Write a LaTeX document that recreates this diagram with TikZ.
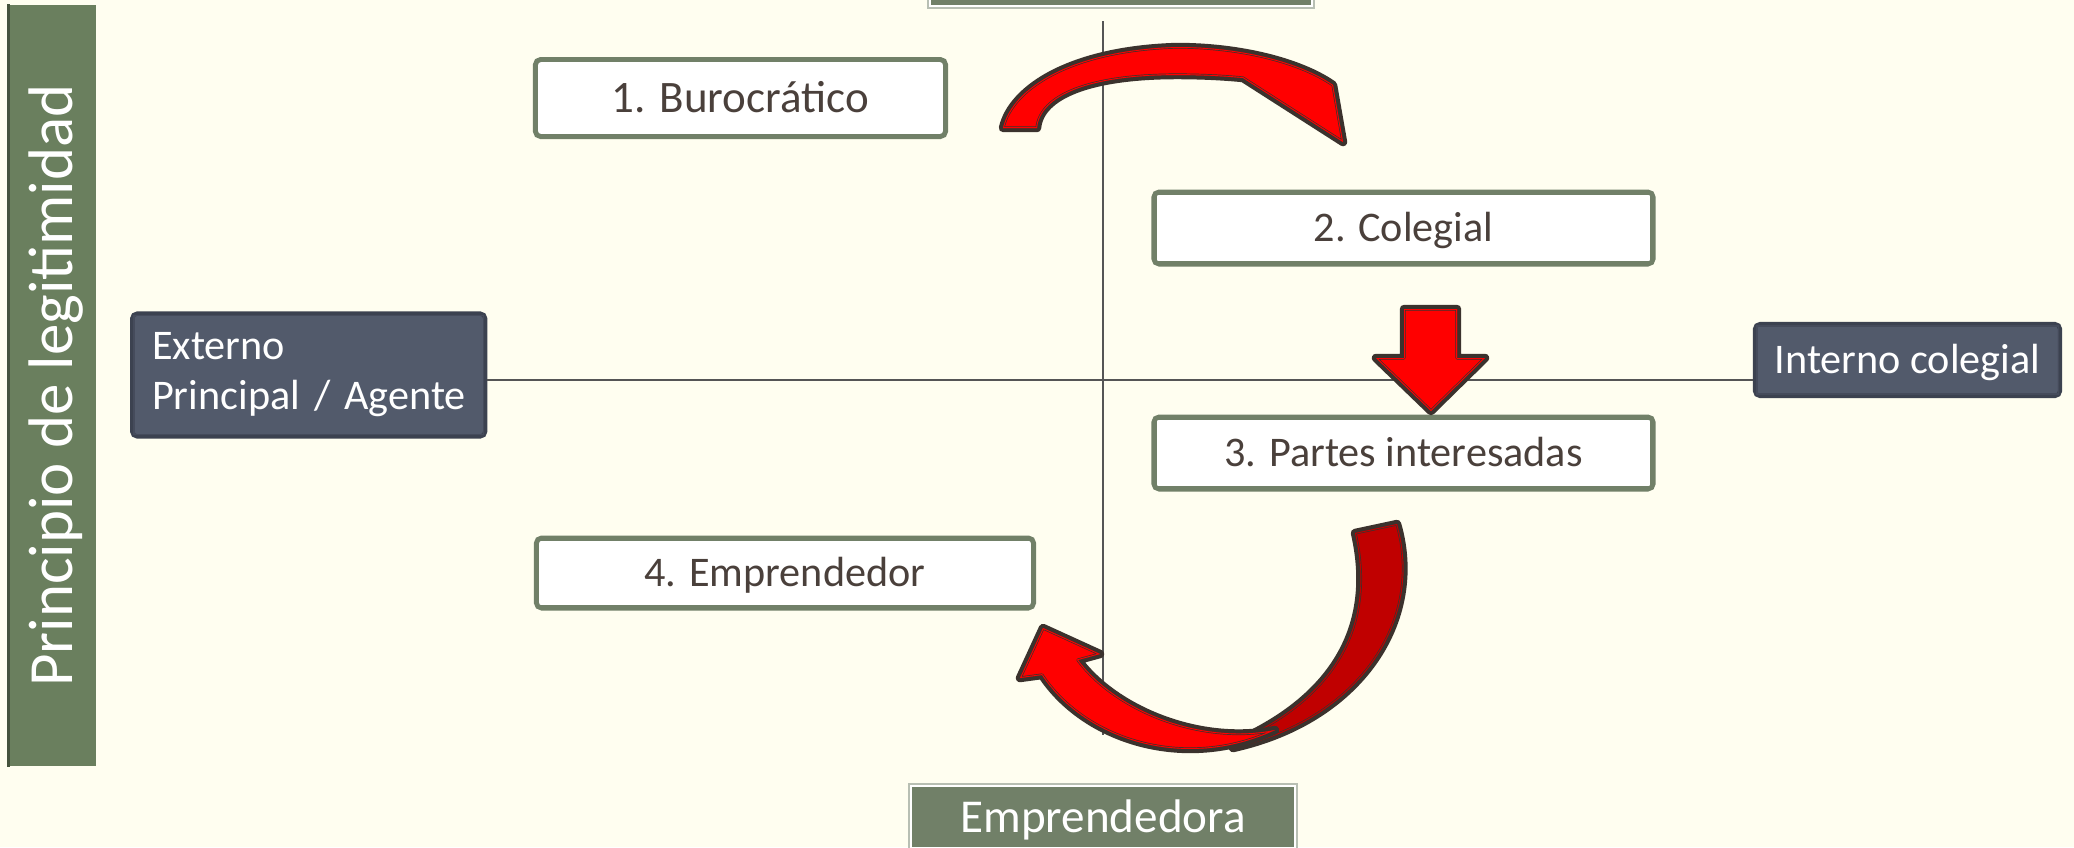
\documentclass[tikz,border=0pt]{standalone}
\usepackage{fontspec}
\setmainfont{Carlito}

\definecolor{bgcream}{HTML}{FFFEF0}
\definecolor{boxgreen}{HTML}{718068}
\definecolor{bargreen}{HTML}{6A7F5E}
\definecolor{slate}{HTML}{525A6B}
\definecolor{slateedge}{HTML}{3C4250}
\definecolor{inkgray}{HTML}{4A403B}
\definecolor{arrowdark}{HTML}{3B322D}
\definecolor{axisgray}{HTML}{555555}
\definecolor{darkred}{HTML}{C00000}

% block arrow: thick dark rim, thin inner rim
\newcommand{\blockarrow}[2]{%
  \draw[arrowdark, line width=2.4pt, line join=round] #2;
  \fill[#1] #2;
  \begin{scope}
    \clip #2;
    \draw[arrowdark, line width=0.9pt, line join=round] #2;
    \draw[#1, line width=0.5pt, line join=round] #2;
  \end{scope}}

\begin{document}
\begin{tikzpicture}[x=0.01cm, y=-0.01cm,
    stagebox/.style={draw=boxgreen, line width=1.4pt, fill=white, rounded corners=1.5pt,
      inner sep=0pt, text=inkgray, font=\fontsize{12}{14.4}\selectfont,
      text height=7.7pt, text depth=0pt},
    darkbox/.style={draw=slateedge, line width=1.2pt, fill=slate, rounded corners=1.5pt,
      inner sep=0pt, text=white, font=\fontsize{12}{14.2}\selectfont},
    axisbox/.style={fill=boxgreen, draw=boxgreen!50!white, line width=0.6pt,
      inner sep=0pt, text=white},
    axis/.style={axisgray, line width=0.4pt}]
	\useasboundingbox (0,0) rectangle (2074,847);
	\clip (0,0) rectangle (2074,847);
	\fill[bgcream] (0,0) rectangle (2074,847);

	% side bar
	\node[rotate=90, fill=bargreen, minimum width=7.61cm, minimum height=0.87cm, inner sep=0pt,
	      text=white, font=\fontsize{17.9}{21}\selectfont, text height=11.5pt, text depth=0pt]
	      (legit) at (52.5,385.5) {Principio de legitimidad};
	\draw[bargreen!65!black, line width=1pt] (legit.north west) -- (legit.north east);

	% axes
	\coordinate (o) at (1103,380);
	\coordinate (vtop) at (1103,21);
	\coordinate (vbot) at (1103,735);

	\node[axisbox, minimum width=3.86cm, minimum height=0.8cm] (top) at (1121,-32) {};
	\node[axisbox, minimum width=3.88cm, minimum height=0.66cm, font=\fontsize{13.4}{16}\selectfont,
	      text height=8.6pt, text depth=0pt] (bottom) at (1103,817) {Emprendedora};

	\node[darkbox, align=left, text width=3.13cm, inner xsep=0.2cm, minimum height=1.23cm, anchor=west]
	      (ext) at (130,375) {Externo\\\mbox{Principal / Agente}};
	\node[darkbox, minimum width=3.05cm, minimum height=0.72cm, text height=7.7pt, text depth=0pt]
	      (int) at (1907.5,360) {Interno colegial};

	\draw[axis] (vtop) -- (vbot);
	\draw[axis] (ext.east |- o) -- (int.west |- o);

	% stages
	\node[stagebox, minimum width=4.10cm, minimum height=0.77cm, font=\fontsize{12.8}{15}\selectfont,
	      text height=8.2pt] (bur) at (740.5,98) {1. Burocrático};
	\node[stagebox, minimum width=4.99cm, minimum height=0.72cm] (col) at (1403.5,228) {2. Colegial};
	\node[stagebox, minimum width=4.99cm, minimum height=0.72cm] (par) at (1403.5,453) {3. Partes interesadas};
	\node[stagebox, minimum width=4.97cm, minimum height=0.70cm] (emp) at (785,573) {4. Emprendedor};

	\foreach \n in {bur,col,par,emp}
		\draw[boxgreen, line width=0.4pt] ([shift={(4.5,4.5)}]\n.north west) rectangle ([shift={(-4.5,-4.5)}]\n.south east);
	\foreach \n in {top,bottom}
		\draw[white, line width=0.5pt] ([shift={(3,3)}]\n.north west) rectangle ([shift={(-3,-3)}]\n.south east);
	\foreach \n in {ext,int}
		\draw[slateedge!60!slate, line width=0.4pt] ([shift={(4,4)}]\n.north west) rectangle ([shift={(-4,-4)}]\n.south east);

	% arrows
	\blockarrow{red}{(1003,128) .. controls (1012,88) and (1072,50) .. (1177,47) .. controls (1240,47) and (1300,62) .. (1333,85) -- (1343,142) -- (1243,78) .. controls (1222,76) and (1200,75) .. (1177,75) .. controls (1090,75) and (1040,95) .. (1037,128) -- cycle}
	\blockarrow{red}{(1404,309) -- (1457,309) -- (1457,358) -- (1485,358) -- (1431,411) -- (1376,358) -- (1404,358) -- cycle}
	\blockarrow{darkred}{(1355,533) -- (1397,524) .. controls (1425,620) and (1360,720) .. (1233,748) -- (1250,735) .. controls (1340,690) and (1375,620) .. (1355,533) -- cycle}
	\blockarrow{red}{(1275,730) .. controls (1200,745) and (1115,710) .. (1078,660) -- (1100,654) -- (1043,628) -- (1020,678) -- (1042,675) .. controls (1085,740) and (1185,772) .. (1275,730) -- cycle}
\end{tikzpicture}
\end{document}
